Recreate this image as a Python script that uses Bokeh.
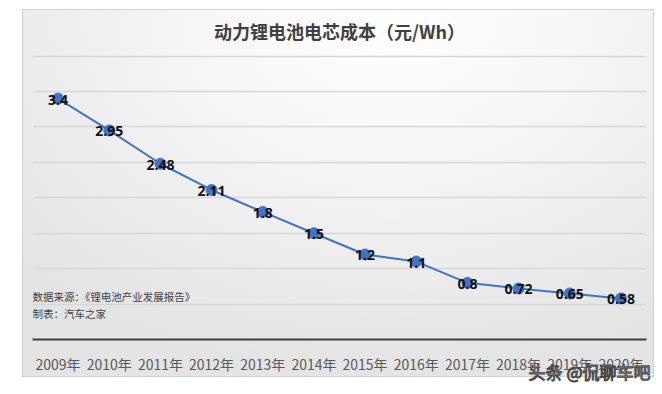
from bokeh.plotting import figure
from bokeh.models import Label, FixedTicker, Title
from bokeh.core.properties import value
from bokeh.embed import file_html
from bokeh.resources import INLINE

years = ["2009年", "2010年", "2011年", "2012年", "2013年", "2014年",
         "2015年", "2016年", "2017年", "2018年", "2019年", "2020年"]
cost = [3.4, 2.95, 2.48, 2.11, 1.8, 1.5, 1.2, 1.1, 0.8, 0.72, 0.65, 0.58]
labels = ["3.4", "2.95", "2.48", "2.11", "1.8", "1.5", "1.2", "1.1", "0.8", "0.72", "0.65", "0.58"]
grid_ticks = [0.5, 1.0, 1.5, 2.0, 2.5, 3.0, 3.5, 4.0]

title_text = "动力锂电池电芯成本（元/Wh）"
source_text = "数据来源：《锂电池产业发展报告》"
maker_text = "制表：汽车之家"
watermark = "头条 @侃聊车吧"

CJK = "Noto Sans CJK SC"
BLUE = "#4472C4"

p = figure(x_range=years, y_range=(0, 4.05),
           frame_width=614, frame_height=287,
           output_backend="svg", toolbar_location=None,
           min_border_left=32, min_border_right=14,
           min_border_top=52, min_border_bottom=50)

p.border_fill_alpha = 0
p.background_fill_alpha = 0
p.outline_line_color = None
p.styles = {
    "background-image": "radial-gradient(ellipse 80% 95% at 58% 4%, #ffffff 0%, #f7f7f7 35%, #e4e4e4 100%), linear-gradient(#d2d2d2, #d2d2d2)",
    "background-size": "630px 366px, 632px 368px",
    "background-position": "23px 10px, 22px 9px",
    "background-repeat": "no-repeat, no-repeat",
}

p.title.text = title_text
p.title.align = "center"
p.title.offset = -3
p.title.standoff = 18
p.title.text_font = CJK
p.title.text_font_style = "bold"
p.title.text_font_size = "18px"
p.title.text_color = "#404040"

p.yaxis.visible = False
p.xgrid.grid_line_color = None
p.ygrid.ticker = FixedTicker(ticks=grid_ticks)
p.ygrid.grid_line_color = "#d6d6d6"
p.ygrid.grid_line_width = 1.5

ax = p.xaxis[0]
ax.axis_line_color = "#3f3f3f"
ax.axis_line_width = 2
ax.major_tick_line_color = None
ax.minor_tick_line_color = None
ax.major_label_text_font = CJK
ax.major_label_text_font_size = "14px"
ax.major_label_text_color = "#595959"
ax.major_label_standoff = 8

p.line(years, cost, line_color=BLUE, line_width=2)
p.scatter(years, cost, size=11, fill_color=BLUE, line_color=BLUE)
p.text(years, cost, text=labels, text_align="center", text_baseline="middle",
       y_offset=1, text_font=value("Open Sans"), text_font_style="bold",
       text_font_size="14px", text_color="#111111")

p.add_layout(Label(x=0.0, y=0.61, text=source_text, text_align="left",
                   text_baseline="middle", text_font=CJK, text_font_size="10.5px",
                   text_color="#404040"))
p.add_layout(Label(x=0.0, y=0.365, text=maker_text, text_align="left",
                   text_baseline="middle", text_font=CJK, text_font_size="10.5px",
                   text_color="#404040"))

wm = Title(text=watermark, align="right", vertical_align="top", offset=-4, standoff=-36,
           text_font=CJK, text_font_style="normal", text_font_size="17px",
           text_color="#ffffff", text_outline_color="#444444")
p.add_layout(wm, "below")

open("out.html", "w").write(file_html(p, INLINE))
